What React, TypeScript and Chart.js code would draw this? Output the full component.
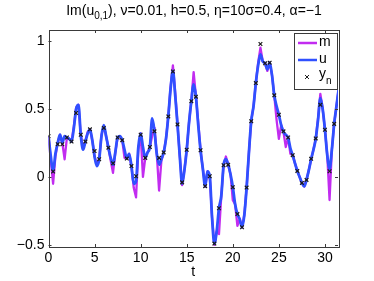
import React, { useEffect, useRef } from "react";
import { Chart, registerables } from "chart.js";
Chart.register(...registerables);

// time step of the fine series (u, m) and observation step (y_n)
const FINE_DT = 0.25;
const OBS_DT = 0.5;

const uValues = [
  0.30, 0.15, 0.04, 0.17, 0.25, 0.31, 0.25, 0.30, 0.29, 0.28, 0.26, 0.36,
  0.50, 0.53, 0.31, 0.20, 0.26, 0.32, 0.35, 0.27, 0.15, 0.08, 0.13, 0.30,
  0.38, 0.30, 0.215, 0.14, 0.09, 0.18, 0.29, 0.30, 0.27, 0.20, 0.135, 0.17,
  0.08, -0.05, -0.03, 0.22, 0.32, 0.22, 0.14, 0.18, 0.22, 0.43, 0.335, 0.17,
  0.09, 0.13, 0.18, 0.28, 0.445, 0.65, 0.78, 0.60, 0.386, 0.15, -0.05, 0.05,
  0.20, 0.40, 0.557, 0.68, 0.59, 0.38, 0.196, 0.06, -0.07, 0.04, 0.005, -0.30,
  -0.49, -0.40, -0.23, -0.14, 0.086, 0.13, 0.09, 0.02, -0.073, -0.20, -0.273, -0.31,
  -0.37, -0.28, -0.078, 0.18, 0.41, 0.52, 0.69, 0.82, 0.90, 0.85, 0.835, 0.79,
  0.84, 0.75, 0.60, 0.52, 0.457, 0.38, 0.33, 0.31, 0.29, 0.21, 0.16, 0.10,
  0.044, 0.0, -0.044, -0.07, -0.02, 0.05, 0.13, 0.20, 0.28, 0.42, 0.58, 0.50,
  0.347, 0.16, 0.06, 0.20, 0.39, 0.52, 0.65,
];

const mValues = [
  0.30, 0.12, -0.05, 0.15, 0.25, 0.31, 0.25, 0.13, 0.29, 0.28, 0.26, 0.37,
  0.51, 0.53, 0.31, 0.21, 0.26, 0.33, 0.35, 0.27, 0.15, 0.09, 0.13, 0.31,
  0.37, 0.30, 0.215, 0.12, 0.03, 0.18, 0.29, 0.30, 0.27, 0.14, 0.135, 0.17,
  0.08, -0.08, -0.15, 0.20, 0.32, 0.0, 0.14, 0.18, 0.22, 0.30, 0.36, 0.17,
  -0.10, 0.12, 0.18, 0.28, 0.445, 0.66, 0.82, 0.62, 0.386, 0.15, -0.06, 0.05,
  0.20, 0.40, 0.557, 0.77, 0.59, 0.40, 0.196, 0.06, -0.07, 0.04, 0.005, -0.30,
  -0.50, -0.40, -0.42, -0.14, 0.086, 0.15, 0.09, 0.02, -0.17, -0.20, -0.36, -0.31,
  -0.37, -0.28, -0.078, 0.18, 0.41, 0.52, 0.69, 0.84, 0.95, 0.85, 0.835, 0.78,
  0.84, 0.75, 0.60, 0.42, 0.28, 0.38, 0.33, 0.22, 0.29, 0.17, 0.16, 0.10,
  0.044, 0.0, -0.044, -0.07, -0.02, 0.05, 0.13, 0.20, 0.28, 0.43, 0.61, 0.50,
  0.347, 0.16, -0.17, 0.20, 0.39, 0.52, 0.65,
];

const ynValues = [
  0.30, 0.04, 0.24, 0.24, 0.29, 0.26, 0.47, 0.31, 0.26, 0.35, 0.19, 0.13,
  0.36, 0.215, 0.10, 0.29, 0.27, 0.135, 0.08, 0.005, 0.31, 0.14, 0.22, 0.335,
  0.14, 0.18, 0.445, 0.775, 0.386, -0.04, 0.20, 0.557, 0.59, 0.196, -0.068, 0.005,
  -0.49, -0.23, 0.086, 0.09, -0.075, -0.273, -0.37, -0.078, 0.41, 0.69, 0.977, 0.835,
  0.84, 0.60, 0.457, 0.335, 0.29, 0.16, 0.044, -0.044, -0.022, 0.133, 0.283, 0.53,
  0.347, 0.042, 0.39,
];

const xTicks = [0, 5, 10, 15, 20, 25, 30];
const yTicks = [-0.5, 0, 0.5, 1];
const X_MAX = 31.416;
const Y_MIN = -0.515;
const Y_MAX = 1.08;

const MAGENTA = "#c22cf0";
const BLUE = "#3050ff";
const AXIS = "#3a3a3a";
const FONT = "Liberation Sans, Arial, sans-serif";

const minus = (s: string) => s.replace("-", "\u2212");

const framePlugin = {
  id: "frame",
  afterDatasetsDraw(chart: any) {
    const { ctx, chartArea: a, scales } = chart;
    ctx.save();
    ctx.strokeStyle = AXIS;
    ctx.lineWidth = 1;
    ctx.strokeRect(Math.round(a.left) + 0.5, Math.round(a.top) + 0.5, Math.round(a.right - a.left), Math.round(a.bottom - a.top));
    const L = 3;
    ctx.beginPath();
    xTicks.forEach((v) => {
      const x = Math.round(scales.x.getPixelForValue(v)) + 0.5;
      ctx.moveTo(x, a.bottom); ctx.lineTo(x, a.bottom - L);
      ctx.moveTo(x, a.top); ctx.lineTo(x, a.top + L);
    });
    yTicks.forEach((v) => {
      const y = Math.round(scales.y.getPixelForValue(v)) + 0.5;
      ctx.moveTo(a.left, y); ctx.lineTo(a.left + L, y);
      ctx.moveTo(a.right, y); ctx.lineTo(a.right - L, y);
    });
    ctx.stroke();
    ctx.restore();
  },
  afterDraw(chart: any) {
    const { ctx } = chart;
    ctx.save();
    // title with subscript
    const big = `14px ${FONT}`;
    const small = `10px ${FONT}`;
    const p1 = "Im(u";
    const sub = "0,1";
    const p2 = "), \u03bd=0.01, h=0.5, \u03b7=10\u03c3=0.4, \u03b1=\u22121";
    ctx.font = big;
    const w1 = ctx.measureText(p1).width;
    const w3 = ctx.measureText(p2).width;
    ctx.font = small;
    const w2 = ctx.measureText(sub).width;
    const total = w1 + w2 + w3;
    let x = 194 - total / 2;
    const by = 15;
    ctx.fillStyle = "#000";
    ctx.textBaseline = "alphabetic";
    ctx.textAlign = "left";
    ctx.font = big;
    ctx.fillText(p1, x, by);
    x += w1;
    ctx.font = small;
    ctx.fillText(sub, x, by + 4);
    x += w2;
    ctx.font = big;
    ctx.fillText(p2, x, by);

    // legend
    const bx = 294, byy = 33, bw = 43, bh = 56;
    ctx.fillStyle = "#fff";
    ctx.fillRect(bx, byy, bw, bh);
    ctx.strokeStyle = AXIS;
    ctx.lineWidth = 1;
    ctx.strokeRect(bx + 0.5, byy + 0.5, bw, bh);
    const rows = [43, 60, 77];
    ctx.lineWidth = 2.5;
    ctx.strokeStyle = MAGENTA;
    ctx.beginPath(); ctx.moveTo(298, rows[0]); ctx.lineTo(317, rows[0]); ctx.stroke();
    ctx.strokeStyle = BLUE;
    ctx.beginPath(); ctx.moveTo(298, rows[1]); ctx.lineTo(317, rows[1]); ctx.stroke();
    ctx.strokeStyle = "#222";
    ctx.lineWidth = 1;
    ctx.beginPath();
    ctx.moveTo(305, rows[2] - 2); ctx.lineTo(309, rows[2] + 2);
    ctx.moveTo(309, rows[2] - 2); ctx.lineTo(305, rows[2] + 2);
    ctx.stroke();
    ctx.fillStyle = "#000";
    ctx.font = big;
    ctx.textBaseline = "middle";
    ctx.fillText("m", 319, rows[0] - 1);
    ctx.fillText("u", 319, rows[1] - 1);
    ctx.fillText("y", 319, rows[2] - 3);
    ctx.font = small;
    ctx.fillText("n", 326, rows[2] + 4);
    ctx.restore();
  },
};

export default function App() {
  const ref = useRef<HTMLCanvasElement>(null);
  useEffect(() => {
    document.body.style.margin = "0";
    const uData = uValues.map((v, i) => ({ x: i * FINE_DT, y: v }));
    const mData = mValues.map((v, i) => ({ x: i * FINE_DT, y: v }));
    const yData = ynValues.map((v, i) => ({ x: i * OBS_DT, y: v }));
    const chart = new Chart(ref.current!, {
      type: "line",
      data: {
        datasets: [
          { label: "y_n", data: yData, showLine: false, pointStyle: "crossRot", pointRadius: 2.6, pointBorderColor: "#1a1a1a", pointBorderWidth: 1.2, borderColor: "#1a1a1a", backgroundColor: "#1a1a1a", order: 0 },
          { label: "u", data: uData, borderColor: BLUE, borderWidth: 2.8, pointRadius: 0, cubicInterpolationMode: "monotone", order: 1 },
          { label: "m", data: mData, borderColor: MAGENTA, borderWidth: 2.3, pointRadius: 0, tension: 0, borderJoinStyle: "round", order: 2 },
        ],
      },
      options: {
        responsive: false,
        animation: false,
        layout: { padding: { left: 0, right: 36, top: 30, bottom: 0 } },
        plugins: { legend: { display: false }, title: { display: false }, tooltip: { enabled: false } },
        scales: {
          x: {
            type: "linear",
            min: 0,
            max: X_MAX,
            grid: { display: false, drawTicks: false },
            border: { display: false },
            afterFit: (s: any) => { s.height = 34; },
            afterBuildTicks: (s: any) => { s.ticks = xTicks.map((v) => ({ value: v })); },
            ticks: { color: "#000", font: { family: FONT, size: 14 }, padding: 3, maxRotation: 0, callback: (v: any) => minus(String(v)) },
            title: { display: true, text: "t", color: "#000", font: { family: FONT, size: 14 }, padding: { top: -2, bottom: 0 } },
          },
          y: {
            type: "linear",
            min: Y_MIN,
            max: Y_MAX,
            grid: { display: false, drawTicks: false },
            border: { display: false },
            afterFit: (s: any) => { s.width = 48.5; },
            afterBuildTicks: (s: any) => { s.ticks = yTicks.map((v) => ({ value: v })); },
            ticks: { color: "#000", font: { family: FONT, size: 14 }, padding: 4, callback: (v: any) => minus(String(v)) },
          },
        },
      },
      plugins: [framePlugin],
    });
    return () => chart.destroy();
  }, []);
  return (
    <div style={{ width: 374, height: 281, background: "#fff" }}>
      <canvas ref={ref} width={374} height={281} style={{ display: "block" }} />
    </div>
  );
}
